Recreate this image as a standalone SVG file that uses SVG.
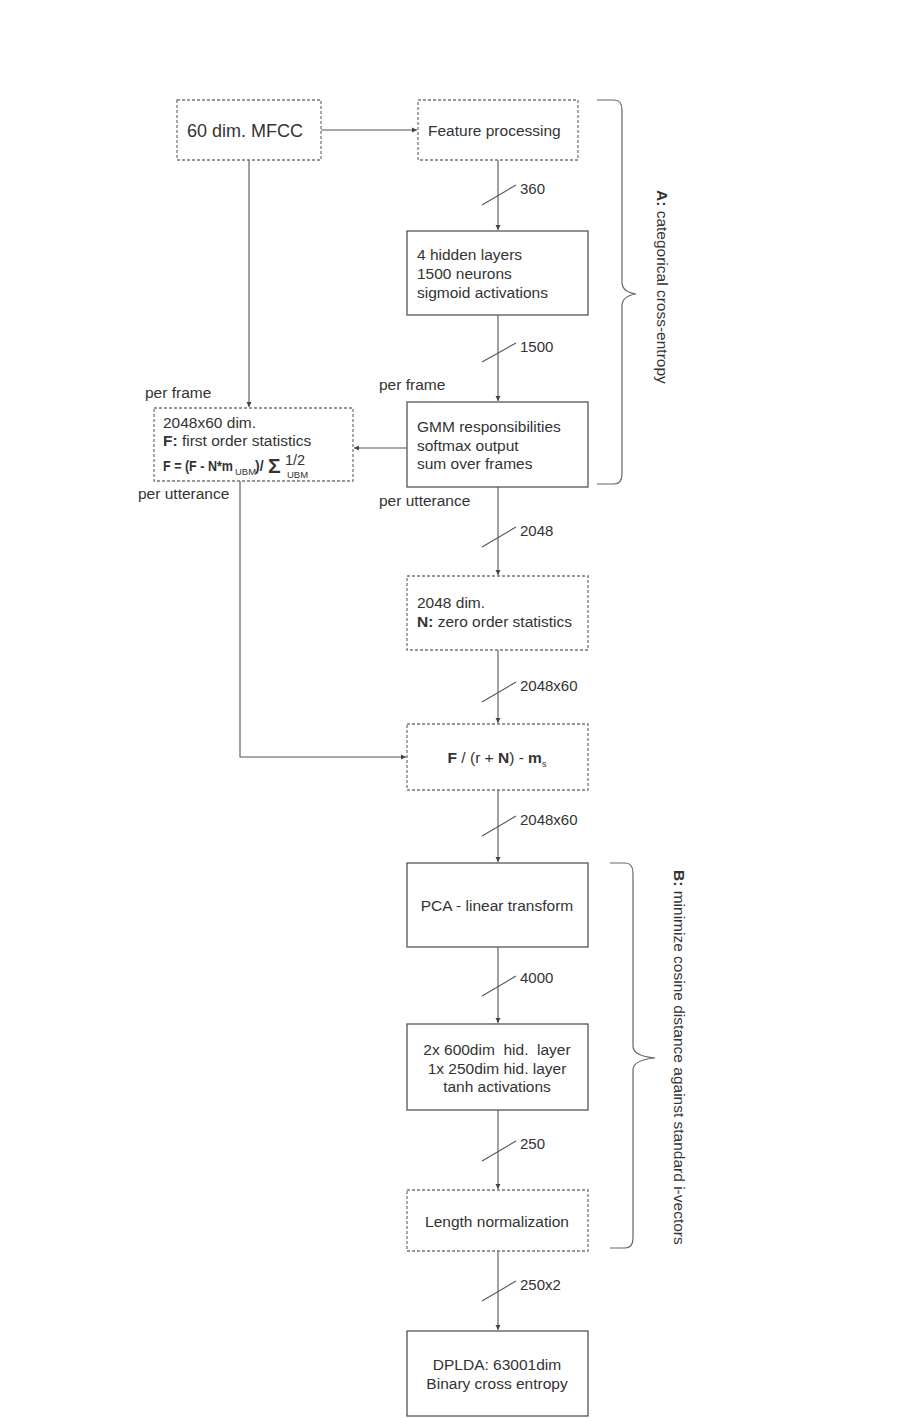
<svg xmlns="http://www.w3.org/2000/svg" width="900" height="1418" viewBox="0 0 900 1418">
<defs>
<marker id="ah" markerWidth="6" markerHeight="6" refX="5" refY="3" orient="auto" markerUnits="userSpaceOnUse">
<path d="M0,0.5 L5,3 L0,5.5 Z" fill="#444"/>
</marker>
<style>
.dash{fill:#fff;stroke:#777;stroke-width:1.3;stroke-dasharray:3 2}
.solid{fill:#fff;stroke:#555;stroke-width:1.3}
.t{font-family:"Liberation Sans",Arial,sans-serif;font-size:15.5px;fill:#333}
.n{font-family:"Liberation Sans",Arial,sans-serif;font-size:15px;fill:#333}
.c{text-anchor:middle}
.ln{stroke:#555;stroke-width:1.1;fill:none}
.br{stroke:#666;stroke-width:1.2;fill:none}
</style>
</defs>
<rect width="900" height="1418" fill="#fff"/>

<g id="connectors">
<path class="ln" d="M321,130 L417,130" marker-end="url(#ah)"/>
<path class="ln" d="M498,160 L498,230" marker-end="url(#ah)"/>
<path class="ln" d="M482,205 L516,185"/>
<text class="n" x="520" y="194">360</text>
<path class="ln" d="M498,315 L498,401" marker-end="url(#ah)"/>
<path class="ln" d="M482,362 L516,343"/>
<text class="n" x="520" y="352">1500</text>
<path class="ln" d="M249,160 L249,407" marker-end="url(#ah)"/>
<path class="ln" d="M407,448 L354,448" marker-end="url(#ah)"/>
<path class="ln" d="M498,487 L498,575" marker-end="url(#ah)"/>
<path class="ln" d="M482,547 L516,527"/>
<text class="n" x="520" y="536">2048</text>
<path class="ln" d="M498,650 L498,723" marker-end="url(#ah)"/>
<path class="ln" d="M482,702 L516,682"/>
<text class="n" x="520" y="691">2048x60</text>
<path class="ln" d="M240,481 L240,757 L406,757" marker-end="url(#ah)"/>
<path class="ln" d="M498,790 L498,862" marker-end="url(#ah)"/>
<path class="ln" d="M482,836 L516,816"/>
<text class="n" x="520" y="825">2048x60</text>
<path class="ln" d="M498,947 L498,1023" marker-end="url(#ah)"/>
<path class="ln" d="M482,996 L516,976"/>
<text class="n" x="520" y="983">4000</text>
<path class="ln" d="M498,1110 L498,1189" marker-end="url(#ah)"/>
<path class="ln" d="M482,1161 L516,1141"/>
<text class="n" x="520" y="1149">250</text>
<path class="ln" d="M498,1251 L498,1330" marker-end="url(#ah)"/>
<path class="ln" d="M482,1301 L516,1281"/>
<text class="n" x="520" y="1290">250x2</text>
<text class="t" x="379" y="390">per frame</text>
<text class="t" x="145" y="398">per frame</text>
<text class="t" x="138" y="499">per utterance</text>
<text class="t" x="379" y="506">per utterance</text>
</g>

<g id="braceA">
<path class="br" d="M597,100 L614,100 Q622,100 622,110 L622,282 Q622,292 636,294 Q622,296 622,306 L622,474 Q622,484 614,484 L597,484"/>
<text class="t" transform="translate(657,190) rotate(90)"><tspan font-weight="bold">A:</tspan> categorical cross-entropy</text>
</g>
<g id="braceB">
<path class="br" d="M610,863 L625,863 Q633,863 633,873 L633,1046 Q633,1056 655,1058 Q633,1060 633,1070 L633,1238 Q633,1248 625,1248 L610,1248"/>
<text class="t" transform="translate(674,870) rotate(90)"><tspan font-weight="bold">B:</tspan> minimize cosine distance against standard i-vectors</text>
</g>

<g id="mfcc">
<rect class="dash" x="177" y="100" width="144" height="60"/>
<text class="t" x="187" y="137" style="font-size:18px">60 dim. MFCC</text>
</g>
<g id="feature">
<rect class="dash" x="418" y="100" width="160" height="60"/>
<text class="t" x="428" y="136">Feature processing</text>
</g>
<g id="hidden">
<rect class="solid" x="407" y="231" width="181" height="84"/>
<text class="t" x="417" y="260">4 hidden layers</text>
<text class="t" x="417" y="279">1500 neurons</text>
<text class="t" x="417" y="298">sigmoid activations</text>
</g>
<g id="gmm">
<rect class="solid" x="407" y="402" width="181" height="85"/>
<text class="t" x="417" y="432">GMM responsibilities</text>
<text class="t" x="417" y="451">softmax output</text>
<text class="t" x="417" y="469">sum over frames</text>
</g>
<g id="fstats">
<rect class="dash" x="154" y="408" width="199" height="73"/>
<text class="t" x="163" y="428">2048x60 dim.</text>
<text class="t" x="163" y="446"><tspan font-weight="bold">F:</tspan> first order statistics</text>
<text class="t" style="font-size:14px"><tspan x="163" y="471" font-weight="bold" textLength="70" lengthAdjust="spacingAndGlyphs">F = (F - N*m</tspan><tspan x="235" y="475" style="font-size:9.5px">UBM</tspan><tspan x="255" y="471" font-weight="bold">)/</tspan><tspan x="268" y="473" font-weight="bold" style="font-size:21px">Σ</tspan><tspan x="285" y="465" style="font-size:14.5px">1/2</tspan><tspan x="287" y="478" style="font-size:9.5px">UBM</tspan></text>
</g>
<g id="nstats">
<rect class="dash" x="407" y="576" width="181" height="74"/>
<text class="t" x="417" y="608">2048 dim.</text>
<text class="t" x="417" y="627"><tspan font-weight="bold">N:</tspan> zero order statistics</text>
</g>
<g id="norm">
<rect class="dash" x="407" y="724" width="181" height="66"/>
<text class="t c" x="497" y="763"><tspan font-weight="bold">F</tspan> / (r + <tspan font-weight="bold">N</tspan>) - <tspan font-weight="bold">m</tspan><tspan style="font-size:9px" dy="4">s</tspan></text>
</g>
<g id="pca">
<rect class="solid" x="407" y="863" width="181" height="84"/>
<text class="t c" x="497" y="911">PCA - linear transform</text>
</g>
<g id="dnn">
<rect class="solid" x="407" y="1024" width="181" height="86"/>
<text class="t c" x="497" y="1055" xml:space="preserve">2x 600dim  hid.  layer</text>
<text class="t c" x="497" y="1074">1x 250dim hid. layer</text>
<text class="t c" x="497" y="1092">tanh activations</text>
</g>
<g id="lennorm">
<rect class="dash" x="407" y="1190" width="181" height="61"/>
<text class="t c" x="497" y="1227">Length normalization</text>
</g>
<g id="dplda">
<rect class="solid" x="407" y="1331" width="181" height="85"/>
<text class="t c" x="497" y="1370">DPLDA: 63001dim</text>
<text class="t c" x="497" y="1389">Binary cross entropy</text>
</g>
</svg>
